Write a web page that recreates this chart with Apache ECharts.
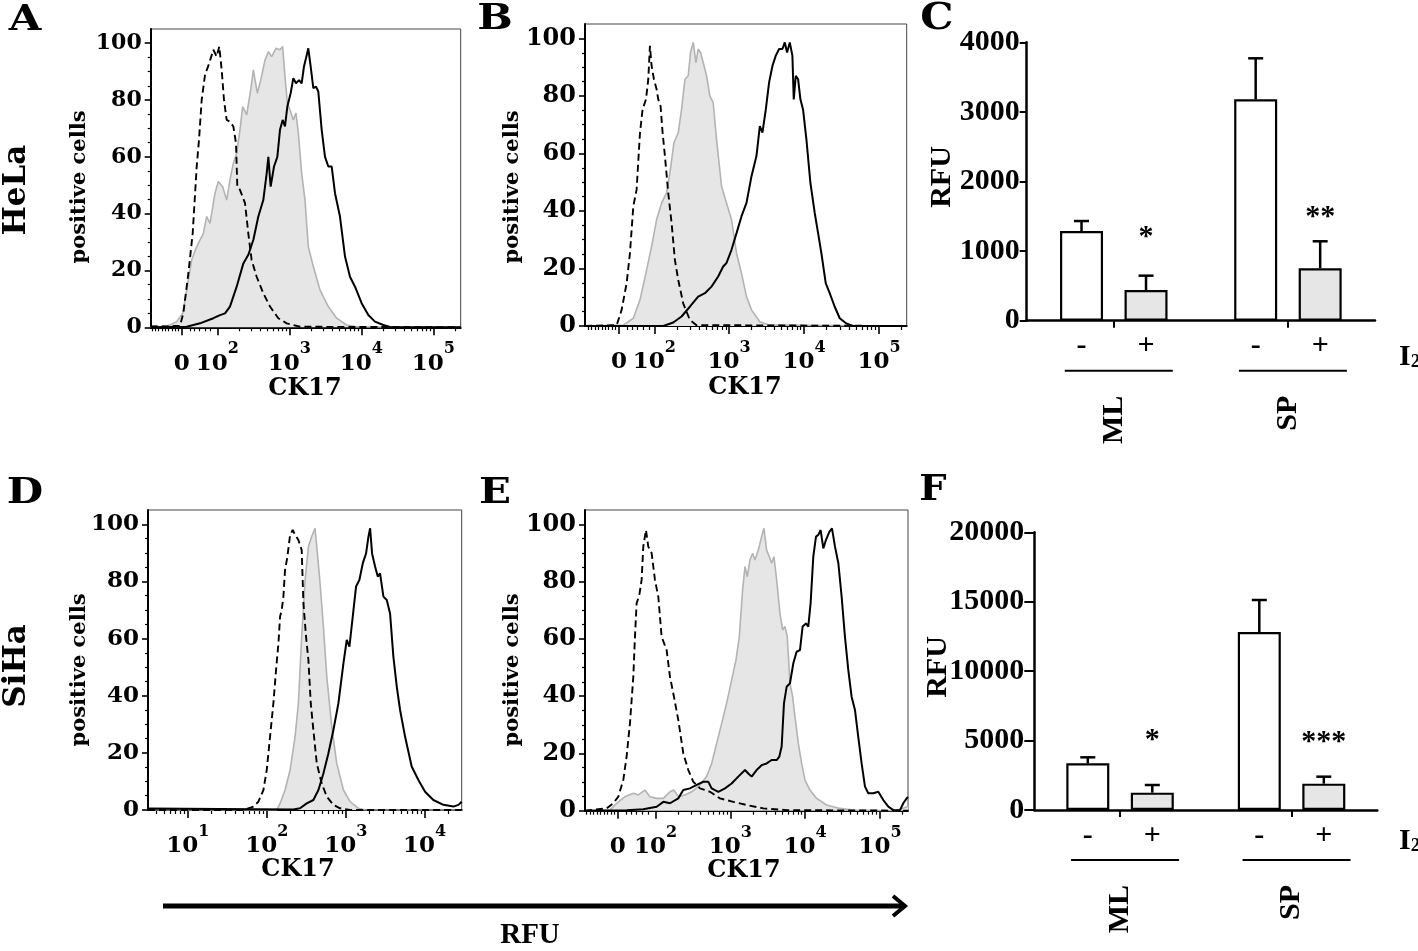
<!DOCTYPE html>
<html><head><meta charset="utf-8">
<script src="https://cdn.jsdelivr.net/npm/echarts@6/dist/echarts.min.js"></script>
<style>html,body{margin:0;padding:0;background:#fff}#c{width:1418px;height:951px}</style>
</head><body><div id="c"></div>
<script>
// ================= DATA =================
// Flow histograms: [CK17 position in decade units (10^k at k), % of max]
const A_isotype = [[1.074,0.3],[1.2,0.4],[1.3,0.3],[1.4,0.5],[1.481,0.5],[1.527,4.9],[1.597,19],[1.657,33],[1.713,56.6],[1.745,66],[1.782,80],[1.828,88.8],[1.888,93],[1.944,97.7],[1.99,95.3],[2.027,98.8],[2.06,90.6],[2.092,80],[2.129,73],[2.175,72.4],[2.222,70.7],[2.259,64.8],[2.277,49.5],[2.314,48.4],[2.384,43.7],[2.43,33],[2.476,23.7],[2.546,17.8],[2.638,12],[2.731,7.3],[2.847,3.2],[2.963,1.4],[3.148,0.2],[5.38,0]];
const A_gray = [[1.074,0],[1.25,0.2],[1.342,0.8],[1.435,2],[1.518,4.9],[1.574,13],[1.643,23.7],[1.713,28.4],[1.759,30.8],[1.805,33],[1.851,39],[1.898,36.6],[1.967,47.2],[2.013,51.3],[2.074,49.5],[2.129,44.8],[2.175,51.9],[2.222,57.7],[2.268,61.3],[2.314,69.5],[2.351,77.7],[2.407,74.8],[2.463,83.6],[2.5,90.6],[2.555,82.4],[2.602,87],[2.662,94.1],[2.708,97],[2.754,95.3],[2.814,98.2],[2.87,97.7],[2.907,98.8],[2.939,88.3],[2.972,78.9],[3.009,76.5],[3.055,73],[3.092,75.4],[3.125,68.3],[3.171,54.2],[3.217,44.8],[3.263,28.4],[3.333,21.4],[3.426,13.1],[3.541,7.3],[3.657,3.2],[3.796,0.8],[3.935,0.2],[5.38,0]];
const A_black = [[1.074,0],[1.574,0.2],[1.759,1.4],[1.944,3.2],[2.037,4.3],[2.106,4.9],[2.175,7.3],[2.268,14.3],[2.361,22.5],[2.43,25.5],[2.5,30.8],[2.569,39],[2.638,44.8],[2.685,54.2],[2.708,60],[2.74,49.5],[2.787,56.6],[2.833,60],[2.87,69.5],[2.907,73],[2.939,70.7],[2.972,77.7],[3.018,82.4],[3.055,87.7],[3.092,85.9],[3.134,87],[3.171,85.9],[3.203,91.8],[3.231,94.7],[3.263,98.2],[3.296,91.8],[3.333,84.2],[3.37,84.7],[3.402,83],[3.449,69.5],[3.495,60],[3.541,56.6],[3.588,56.6],[3.634,47.2],[3.703,39],[3.773,24.9],[3.842,17.8],[3.912,14.3],[4.004,8.5],[4.097,4.3],[4.189,2],[4.305,0.8],[4.398,0.1],[5.38,0]];

const B_isotype = [[1.075,0],[1.498,0.3],[1.564,5.6],[1.631,14.9],[1.675,25.3],[1.72,41.6],[1.764,47.4],[1.809,67.2],[1.844,75.3],[1.889,78.8],[1.92,85.8],[1.942,97.4],[1.964,90.5],[1.995,85.8],[2.031,82.3],[2.053,78.8],[2.084,76.5],[2.111,67.2],[2.142,59.1],[2.186,46.3],[2.231,35.8],[2.275,23],[2.32,16],[2.386,7.9],[2.475,2.1],[2.564,0.3],[5.37,0]];
const B_gray = [[1.075,0],[1.586,0.3],[1.72,2.7],[1.809,9.1],[1.898,19.5],[1.964,27.7],[2.031,37],[2.098,42.8],[2.164,46.3],[2.209,53.3],[2.262,63.7],[2.32,67.2],[2.364,75.3],[2.409,85.8],[2.453,87],[2.484,95.1],[2.52,98.6],[2.556,91.6],[2.586,96.3],[2.618,95.1],[2.653,91.6],[2.698,87],[2.742,80],[2.786,77.7],[2.831,64.9],[2.898,48.6],[2.964,42.8],[3.031,37],[3.098,25.3],[3.164,18.4],[3.231,10.2],[3.298,5.6],[3.409,1.5],[3.542,0.3],[5.37,0]];
const B_black = [[1.075,0],[2.12,0],[2.253,1.2],[2.364,3.3],[2.475,6.7],[2.586,10.2],[2.676,11.4],[2.764,13.7],[2.853,17.2],[2.92,20.7],[2.964,21.9],[3.031,26.5],[3.098,32.3],[3.164,38.1],[3.231,42.8],[3.298,52.1],[3.364,59.1],[3.409,69.5],[3.444,67.2],[3.489,75.3],[3.533,84.7],[3.578,90.5],[3.622,94],[3.667,96.3],[3.711,96.3],[3.742,98.6],[3.773,95.1],[3.809,98.6],[3.844,94],[3.862,78.8],[3.889,87],[3.92,85.8],[3.951,78.8],[3.986,75.3],[4.031,64.9],[4.084,49.8],[4.142,39.3],[4.187,32.3],[4.231,25.3],[4.289,14.9],[4.342,11.4],[4.409,6.7],[4.476,2.7],[4.564,0.9],[4.653,0],[5.37,0]];

const D_isotype = [[0.494,0],[1.7,0],[1.83,1.2],[1.893,2.9],[1.957,7],[1.999,14],[2.041,25.7],[2.083,37.3],[2.117,49],[2.147,58.3],[2.168,67.7],[2.189,70],[2.21,74.7],[2.231,84],[2.261,88.7],[2.295,96.3],[2.328,98],[2.358,96.3],[2.4,94.5],[2.442,91],[2.464,72.3],[2.497,60.7],[2.527,52.5],[2.557,37.3],[2.59,28],[2.633,16.3],[2.696,9.3],[2.76,4.7],[2.844,1.8],[2.928,0.6],[3.055,0],[4.47,0]];
const D_gray = [[0.494,0],[2.126,0],[2.168,2.3],[2.231,7],[2.295,14],[2.358,25.7],[2.4,37.3],[2.442,60.7],[2.485,80.5],[2.527,92.2],[2.569,95.7],[2.611,98.6],[2.641,89.8],[2.675,79.3],[2.717,64.2],[2.76,46.7],[2.823,29.2],[2.886,16.3],[2.971,7],[3.055,2.9],[3.161,0.6],[3.25,0],[4.47,0]];
const D_black = [[0.494,0.5],[2.337,0.2],[2.421,0.6],[2.506,2.3],[2.59,3.5],[2.654,7],[2.717,12.8],[2.78,19.8],[2.844,28],[2.907,37.3],[2.971,51.3],[3.013,59.5],[3.047,57.2],[3.089,67.7],[3.131,78.2],[3.173,80.5],[3.216,86.3],[3.258,89.8],[3.288,95.7],[3.309,98.6],[3.334,89.8],[3.372,85.2],[3.406,81.7],[3.435,82.8],[3.478,74.7],[3.52,73.5],[3.562,68.8],[3.604,53.7],[3.647,43.2],[3.689,35],[3.752,25.7],[3.836,15.2],[3.921,10.5],[4.006,6.4],[4.111,3.5],[4.238,1.8],[4.365,1.2],[4.428,1.8],[4.47,2.9]];

const E_isotype = [[1.057,0],[1.346,0.8],[1.435,2.6],[1.502,4.9],[1.569,10.7],[1.613,18.9],[1.658,30.5],[1.703,46.8],[1.725,60.8],[1.747,72.4],[1.783,75.3],[1.814,80.6],[1.836,92.2],[1.872,98],[1.903,92.2],[1.948,89.9],[1.992,80.6],[2.037,74.7],[2.081,60.8],[2.148,56.1],[2.193,46.8],[2.246,39.8],[2.304,31.7],[2.371,20],[2.438,14.2],[2.505,10.1],[2.594,7.8],[2.728,6.6],[2.861,4.3],[3.04,3.1],[3.218,2],[3.441,0.8],[3.753,0.2],[5.375,0]];
const E_gray = [[1.057,0],[1.39,0.2],[1.48,2.6],[1.591,4.9],[1.703,6.1],[1.769,5.5],[1.858,7.2],[1.925,4.9],[2.015,4.3],[2.104,4.3],[2.193,6.6],[2.246,7.2],[2.304,4.9],[2.393,5.5],[2.482,6.6],[2.594,9],[2.683,11.9],[2.75,16.5],[2.817,23.5],[2.884,30.5],[2.95,37.5],[3.017,45.6],[3.075,52.6],[3.12,60.8],[3.164,77.1],[3.196,85.2],[3.227,81.7],[3.262,87.5],[3.298,89.9],[3.329,87.5],[3.374,91],[3.418,95.7],[3.449,98.6],[3.485,91],[3.521,88.7],[3.552,86.4],[3.583,88.7],[3.619,80.6],[3.663,68.9],[3.699,63.1],[3.73,64.3],[3.761,60.8],[3.797,44.5],[3.833,39.8],[3.864,32.8],[3.909,23.5],[3.953,16.5],[3.998,10.7],[4.064,7.2],[4.154,4.3],[4.287,2],[4.465,0.8],[4.644,0.2],[5.2,0],[5.3,0.8],[5.375,1.5]];
const E_black = [[1.057,0],[1.613,0.2],[1.836,0.5],[2.015,1.4],[2.104,3.1],[2.193,2.6],[2.304,4.3],[2.371,7.2],[2.46,7.8],[2.55,9],[2.639,10.1],[2.705,10.1],[2.75,7.8],[2.839,6.6],[2.928,7.8],[3.017,9.5],[3.106,11.9],[3.196,14.2],[3.24,13],[3.285,11.9],[3.351,14.2],[3.418,15.9],[3.485,16.5],[3.552,17.7],[3.619,17.7],[3.655,18.9],[3.686,22.4],[3.717,37.5],[3.753,43.3],[3.797,44.5],[3.842,51.5],[3.886,55.5],[3.931,56.1],[3.966,64.3],[4.011,65.4],[4.042,64.3],[4.073,72.4],[4.109,88.7],[4.145,95.7],[4.176,96.3],[4.207,98],[4.243,91.6],[4.278,94.5],[4.323,97.4],[4.359,98.6],[4.399,92.2],[4.444,86.4],[4.488,74.7],[4.532,60.8],[4.577,49.1],[4.621,39.8],[4.666,35.2],[4.71,25.8],[4.755,16.5],[4.8,8.4],[4.844,6.1],[4.911,6.1],[4.978,6.6],[5.045,3.7],[5.112,1.4],[5.179,0.2],[5.268,0.2],[5.312,2.6],[5.357,4.3],[5.375,4.8]];

const flowYTicks = [0, 20, 40, 60, 80, 100];

// Bar charts (RFU)
const groups = ['ML', 'SP'];
const C_minus = [1289, 3181];
const C_minusErr = [143, 589];
const C_plus = [441, 753];
const C_plusErr = [206, 388];
const C_sig = ['*', '**'];
const C_sigY = [1203, 1490];

const F_minus = [3361, 12820];
const F_minusErr = [433, 2304];
const F_plus = [1248, 1896];
const F_plusErr = [552, 504];
const F_sig = ['*', '***'];
const F_sigY = [5000, 4900];

// ================= CHART =================
const FLOW_FONT = '"DejaVu Serif", serif';
const BAR_FONT = '"Liberation Serif", "Times New Roman", serif';

const flowPanels = [
  {grid:{left:150.7, top:29, width:310, height:298.3}, xMin:1.074, xMax:5.38, zero:1.505, decades:[2,3,4,5], yFont:22, curves:[A_gray, A_isotype, A_black]},
  {grid:{left:585, top:24, width:321.7, height:302}, xMin:1.075, xMax:5.37, zero:1.53, decades:[2,3,4,5], yFont:24, curves:[B_gray, B_isotype, B_black]},
  {grid:{left:148, top:510, width:313.7, height:300}, xMin:0.494, xMax:4.47, zero:null, decades:[1,2,3,4], yFont:23, curves:[D_gray, D_isotype, D_black]},
  {grid:{left:585, top:510, width:323, height:300.7}, xMin:1.057, xMax:5.375, zero:1.494, decades:[2,3,4,5], yFont:24, curves:[E_gray, E_isotype, E_black]}
];

function minorTicks(p) {
  const out = [];
  for (let k = Math.floor(p.xMin); k <= Math.ceil(p.xMax); k++) {
    for (let m = 2; m <= 9; m++) {
      const v = k + Math.log10(m);
      if (v > p.xMin && v < p.xMax && (p.zero == null || v > 2)) out.push(v);
    }
  }
  if (p.zero != null) {
    for (let v = p.zero - 0.046; v > p.xMin + 0.01; v -= 0.046) out.push(v);
    [0.115, 0.175, 0.244, 0.324, 0.403].forEach(o => out.push(p.zero + o));
  }
  return out;
}

const grids = [], xAxes = [], yAxes = [], series = [];

flowPanels.forEach((p, i) => {
  grids.push(Object.assign({show:true, borderColor:'#444', borderWidth:1, containLabel:false}, p.grid));
  const majors = p.zero != null ? [p.zero].concat(p.decades) : p.decades.slice();
  const xi = xAxes.length, yi = yAxes.length;
  xAxes.push({
    gridIndex:i, type:'value', position:'bottom', min:p.xMin, max:p.xMax,
    axisLine:{show:true, onZero:false, lineStyle:{color:'#000', width:2}},
    axisTick:{show:true, customValues:majors, length:8, lineStyle:{color:'#000', width:1.6}},
    axisLabel:{show:true, customValues:majors, margin:14,
      formatter:(v) => (p.zero != null && Math.abs(v - p.zero) < 1e-6) ? '{b|0}' : '{b|10}{s|' + Math.round(v) + '}',
      rich:{
        b:{fontFamily:FLOW_FONT, fontWeight:'bold', fontSize:23, lineHeight:34, verticalAlign:'bottom', color:'#000'},
        s:{fontFamily:FLOW_FONT, fontWeight:'bold', fontSize:16, lineHeight:12, verticalAlign:'top', color:'#000'}
      }},
    splitLine:{show:false}
  });
  xAxes.push({
    gridIndex:i, type:'value', position:'bottom', min:p.xMin, max:p.xMax,
    axisLine:{show:false, onZero:false},
    axisTick:{show:true, customValues:minorTicks(p), length:4, lineStyle:{color:'#000', width:1.2}},
    axisLabel:{show:false}, splitLine:{show:false}
  });
  yAxes.push({
    gridIndex:i, type:'value', position:'left', min:0, max:105,
    axisLine:{show:true, onZero:false, lineStyle:{color:'#000', width:2}},
    axisTick:{show:true, customValues:flowYTicks, length:6, lineStyle:{color:'#000', width:1.6}},
    axisLabel:{show:true, customValues:flowYTicks, margin:9, fontFamily:FLOW_FONT, fontWeight:'bold', fontSize:p.yFont, color:'#000'},
    splitLine:{show:false}
  });
  const yMinor = [];
  for (let v = 5; v < 105; v += 5) if (v % 20 !== 0) yMinor.push(v);
  yAxes.push({
    gridIndex:i, type:'value', position:'left', min:0, max:105,
    axisLine:{show:false, onZero:false},
    axisTick:{show:true, customValues:yMinor, length:3, lineStyle:{color:'#000', width:1.2}},
    axisLabel:{show:false}, splitLine:{show:false}
  });
  const [gray, iso, black] = p.curves;
  series.push({type:'line', xAxisIndex:xi, yAxisIndex:yi, data:gray, showSymbol:false, symbol:'none', silent:true, z:1,
    lineStyle:{color:'#b3b3b3', width:1.6}, areaStyle:{color:'#e6e6e6', opacity:1}});
  series.push({type:'line', xAxisIndex:xi, yAxisIndex:yi, data:iso, showSymbol:false, symbol:'none', silent:true, z:2,
    lineStyle:{color:'#000', width:1.9, type:[7,4]}});
  series.push({type:'line', xAxisIndex:xi, yAxisIndex:yi, data:black, showSymbol:false, symbol:'none', silent:true, z:3,
    lineStyle:{color:'#000', width:2}});
});

const barPanels = [
  {grid:{left:1026.7, top:42.3, width:348.3, height:278.4}, max:4000, interval:1000, tickLen:7,
   minus:C_minus, minusErr:C_minusErr, plus:C_plus, plusErr:C_plusErr, sig:C_sig, sigY:C_sigY},
  {grid:{left:1034.3, top:532.3, width:343, height:277.7}, max:20000, interval:5000, tickLen:10,
   minus:F_minus, minusErr:F_minusErr, plus:F_plus, plusErr:F_plusErr, sig:F_sig, sigY:F_sigY}
];

const BAR_W = 43, BAR_OFF = 32.25;

barPanels.forEach((b) => {
  const gi = grids.length;
  grids.push(Object.assign({show:false, containLabel:false}, b.grid));
  const xi = xAxes.length, yi = yAxes.length;
  xAxes.push({
    gridIndex:gi, type:'category', position:'bottom', data:groups,
    axisLine:{show:true, onZero:false, lineStyle:{color:'#000', width:2.5}},
    axisTick:{show:true, alignWithLabel:true, length:7, lineStyle:{color:'#000', width:2}},
    axisLabel:{show:true, rotate:90, margin:75, fontFamily:BAR_FONT, fontWeight:'bold', fontSize:30, color:'#000', interval:0}
  });
  yAxes.push({
    gridIndex:gi, type:'value', position:'left', min:0, max:b.max, interval:b.interval,
    axisLine:{show:true, onZero:false, lineStyle:{color:'#000', width:2.5}},
    axisTick:{show:true, length:b.tickLen, lineStyle:{color:'#000', width:2}},
    axisLabel:{show:true, margin:b.tickLen, formatter:(v) => String(v), fontFamily:BAR_FONT, fontWeight:'bold', fontSize:30, color:'#000'},
    splitLine:{show:false}
  });
  series.push({type:'bar', name:'-', xAxisIndex:xi, yAxisIndex:yi, data:b.minus, barWidth:BAR_W, barGap:'50%', silent:true,
    itemStyle:{color:'#fff', borderColor:'#000', borderWidth:2.2}});
  series.push({type:'bar', name:'+', xAxisIndex:xi, yAxisIndex:yi, data:b.plus, barWidth:BAR_W, barGap:'50%', silent:true,
    itemStyle:{color:'#e6e6e6', borderColor:'#000', borderWidth:2.2}});
  const items = [];
  const sigs = [];
  groups.forEach((g, k) => {
    items.push([k, b.minus[k], b.minusErr[k], -1, 0]); sigs.push('');
    items.push([k, b.plus[k], b.plusErr[k], 1, b.sigY[k]]); sigs.push(b.sig[k]);
  });
  series.push({
    type:'custom', xAxisIndex:xi, yAxisIndex:yi, data:items, silent:true, clip:false, z:5,
    renderItem:(params, api) => {
      const cat = api.value(0), mean = api.value(1), err = api.value(2), side = api.value(3), sy = api.value(4);
      const base = api.coord([cat, 0]);
      const top = api.coord([cat, mean]);
      const et = api.coord([cat, mean + err]);
      const x = base[0] + side * BAR_OFF;
      const st = {stroke:'#000', lineWidth:2.5};
      const ch = [
        {type:'line', shape:{x1:x, y1:top[1], x2:x, y2:et[1]}, style:st},
        {type:'line', shape:{x1:x - 7.5, y1:et[1], x2:x + 7.5, y2:et[1]}, style:st},
        {type:'text', x:x, y:base[1] + 26, style:{text: side < 0 ? '-' : '+', font:'bold 30px ' + BAR_FONT, fill:'#000', align:'center', verticalAlign:'middle'}}
      ];
      if (side > 0) {
        const sp = api.coord([cat, sy]);
        ch.push({type:'text', x:x, y:sp[1], style:{text:sigs[params.dataIndex], font:'bold 30px ' + BAR_FONT, fill:'#000', align:'center', verticalAlign:'middle'}});
      } else {
        ch.push({type:'line', shape:{x1:base[0] - 49, y1:base[1] + 50, x2:base[0] + 59, y2:base[1] + 50}, style:{stroke:'#000', lineWidth:2}});
      }
      return {type:'group', children:ch};
    }
  });
});

function txt(t, x, y, font, opts) {
  return Object.assign({type:'text', x:x, y:y, silent:true,
    style:{text:t, font:font, fill:'#000', align:'center', verticalAlign:'middle'}}, opts || {});
}
const R90 = Math.PI / 2;
const graphics = [
  txt('A', 25, 21, 'bold 35px ' + FLOW_FONT, {scaleX:1.2}),
  txt('B', 495, 20, 'bold 35px ' + FLOW_FONT, {scaleX:1.2}),
  txt('C', 937, 19, 'bold 38px ' + FLOW_FONT, {scaleX:1.1}),
  txt('D', 25, 494, 'bold 35px ' + FLOW_FONT, {scaleX:1.2}),
  txt('E', 495, 494, 'bold 35px ' + FLOW_FONT, {scaleX:1.2}),
  txt('F', 933, 491, 'bold 35px ' + FLOW_FONT, {scaleX:1.1}),
  txt('HeLa', 17, 190, 'bold 31px ' + FLOW_FONT, {rotation:R90}),
  txt('SiHa', 17, 666, 'bold 31px ' + FLOW_FONT, {rotation:R90}),
  txt('positive cells', 80, 187, 'bold 21px ' + FLOW_FONT, {rotation:R90}),
  txt('positive cells', 513, 187, 'bold 21px ' + FLOW_FONT, {rotation:R90}),
  txt('positive cells', 80, 670, 'bold 21px ' + FLOW_FONT, {rotation:R90}),
  txt('positive cells', 513, 670, 'bold 21px ' + FLOW_FONT, {rotation:R90}),
  txt('CK17', 305, 389, 'bold 24px ' + FLOW_FONT),
  txt('CK17', 745, 388, 'bold 24px ' + FLOW_FONT),
  txt('CK17', 298, 870, 'bold 24px ' + FLOW_FONT),
  txt('CK17', 744, 871, 'bold 24px ' + FLOW_FONT),
  txt('RFU', 942, 177, 'bold 30px ' + BAR_FONT, {rotation:R90}),
  txt('RFU', 938, 667, 'bold 30px ' + BAR_FONT, {rotation:R90}),
  txt('RFU', 530, 936, 'bold 29px ' + BAR_FONT),
  {type:'text', x:1399, y:357, silent:true, style:{text:'{i|I}{s|2}', align:'left', verticalAlign:'middle',
    rich:{i:{fontFamily:BAR_FONT, fontWeight:'bold', fontSize:30, lineHeight:30, verticalAlign:'top', fill:'#000'},
          s:{fontFamily:BAR_FONT, fontWeight:'bold', fontSize:19, lineHeight:10, verticalAlign:'bottom', fill:'#000'}}}},
  {type:'text', x:1399, y:841, silent:true, style:{text:'{i|I}{s|2}', align:'left', verticalAlign:'middle',
    rich:{i:{fontFamily:BAR_FONT, fontWeight:'bold', fontSize:30, lineHeight:30, verticalAlign:'top', fill:'#000'},
          s:{fontFamily:BAR_FONT, fontWeight:'bold', fontSize:19, lineHeight:10, verticalAlign:'bottom', fill:'#000'}}}},
  {type:'line', silent:true, shape:{x1:163, y1:906, x2:903, y2:906}, style:{stroke:'#000', lineWidth:5}},
  {type:'polyline', silent:true, shape:{points:[[893,896],[905,906],[893,916]]}, style:{stroke:'#000', lineWidth:4, fill:null}}
];

const chart = echarts.init(document.getElementById('c'), null, {renderer:'canvas'});
chart.setOption({
  backgroundColor:'#fff',
  animation:false,
  grid:grids, xAxis:xAxes, yAxis:yAxes, series:series,
  graphic:graphics
});
</script>
</body></html>
